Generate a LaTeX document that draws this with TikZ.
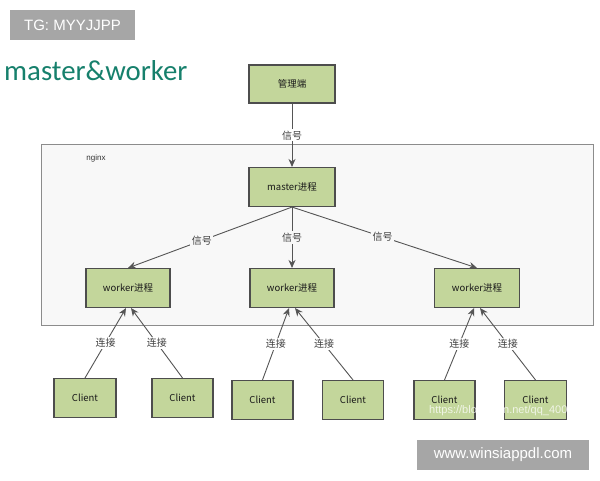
\documentclass[tikz,border=0pt]{standalone}
\usepackage{fontspec}
\setmainfont{Liberation Sans}
\newfontfamily\cjk{Noto Sans CJK SC}
\newfontfamily\titlefont{Carlito}
\usetikzlibrary{arrows.meta,calc}
\definecolor{boxgreen}{HTML}{C3D69B}
\definecolor{boxedge}{HTML}{4D4D4D}
\definecolor{linegray}{HTML}{555555}
\definecolor{nginxfill}{HTML}{F8F8F8}
\definecolor{titleteal}{HTML}{16806C}
\definecolor{wmgray}{HTML}{A6A6A6}
\tikzset{
  procbox/.style={draw=boxedge, line width=1.1pt, fill=boxgreen, inner sep=0pt,
    font=\cjk\fontsize{9.5}{10}\selectfont, text=black!90},
  arr/.style={draw=linegray, line width=0.9pt, -{Stealth[length=8pt,width=7pt]}},
  lbl/.style={font=\cjk\fontsize{10}{11}\selectfont, text=black!75, inner sep=1.5pt},
  wmbox/.style={fill=wmgray, text=white, inner sep=0pt, font=\fontsize{15}{16}\selectfont}
}
\begin{document}
\begin{tikzpicture}[x=1pt,y=-1pt]
\useasboundingbox (0,0) rectangle (600,480);
\fill[white] (0,0) rectangle (600,480);
% nginx container
\draw[draw=gray!90, line width=1pt, fill=nginxfill] (41,144) rectangle (593,325);
\node[font=\fontsize{8}{9}\selectfont, text=black!80] (nginxlbl) at (96,158) {nginx};
% watermark boxes and title
\node[wmbox, minimum width=125pt, minimum height=30pt] (tg) at (72.5,25) {TG: MYYJJPP};
\node[wmbox, minimum width=172pt, minimum height=30pt] (www) at (503,455) {www.winsiappdl.com};
\node[font=\titlefont\fontsize{28.8}{30}\selectfont, text=titleteal, anchor=west, inner sep=0pt] (title) at (4,71) {master\&worker};
% nodes
\node[procbox, minimum width=86pt, minimum height=38pt] (admin) at (292,84) {管理端};
\node[procbox, minimum width=86pt, minimum height=39pt] (master) at (292,187) {master进程};
\node[procbox, minimum width=84pt, minimum height=39pt] (w1) at (128,288) {worker进程};
\node[procbox, minimum width=84pt, minimum height=39pt] (w2) at (292,288) {worker进程};
\node[procbox, minimum width=85pt, minimum height=39pt] (w3) at (477,288) {worker进程};
\node[procbox, minimum width=62pt, minimum height=39pt] (c1) at (85,398) {Client};
\node[procbox, minimum width=61pt, minimum height=39pt] (c2) at (182.5,398) {Client};
\node[procbox, minimum width=61pt, minimum height=39pt] (c3) at (262.5,400) {Client};
\node[procbox, minimum width=61pt, minimum height=39pt] (c4) at (353,400) {Client};
\node[procbox, minimum width=61pt, minimum height=39pt] (c5) at (444.5,400) {Client};
\node[procbox, minimum width=62pt, minimum height=39pt] (c6) at (535.5,400) {Client};
% signal arrows
\draw[arr] (admin.south) -- node[lbl, fill=white, pos=0.5] {信号} (master.north);
\draw[arr] (master.south) -- node[lbl, fill=nginxfill, pos=0.55] {信号} (w1.north);
\draw[arr] (master.south) -- node[lbl, fill=nginxfill, pos=0.5] {信号} (w2.north);
\draw[arr] (master.south) -- node[lbl, fill=nginxfill, pos=0.49] {信号} (w3.north);
% connection arrows
\draw[arr] (c1.north) -- node[lbl, fill=white] {连接} ($(w1.south)+(-2,0)$);
\draw[arr] (c2.north) -- node[lbl, fill=white] {连接} ($(w1.south)+(3,0)$);
\draw[arr] (c3.north) -- node[lbl, fill=white] {连接} ($(w2.south)+(-3,0)$);
\draw[arr] (c4.north) -- node[lbl, fill=white] {连接} ($(w2.south)+(3,0)$);
\draw[arr] (c5.north) -- node[lbl, fill=white] {连接} ($(w3.south)+(-3,0)$);
\draw[arr] (c6.north) -- node[lbl, fill=white] {连接} ($(w3.south)+(3,0)$);
% faint url watermark
\node[font=\fontsize{11}{12}\selectfont, text=white, opacity=0.75, anchor=west, inner sep=0pt] (url) at (429,411) {https://blog.csdn.net/qq\_40053754};
\end{tikzpicture}
\end{document}
